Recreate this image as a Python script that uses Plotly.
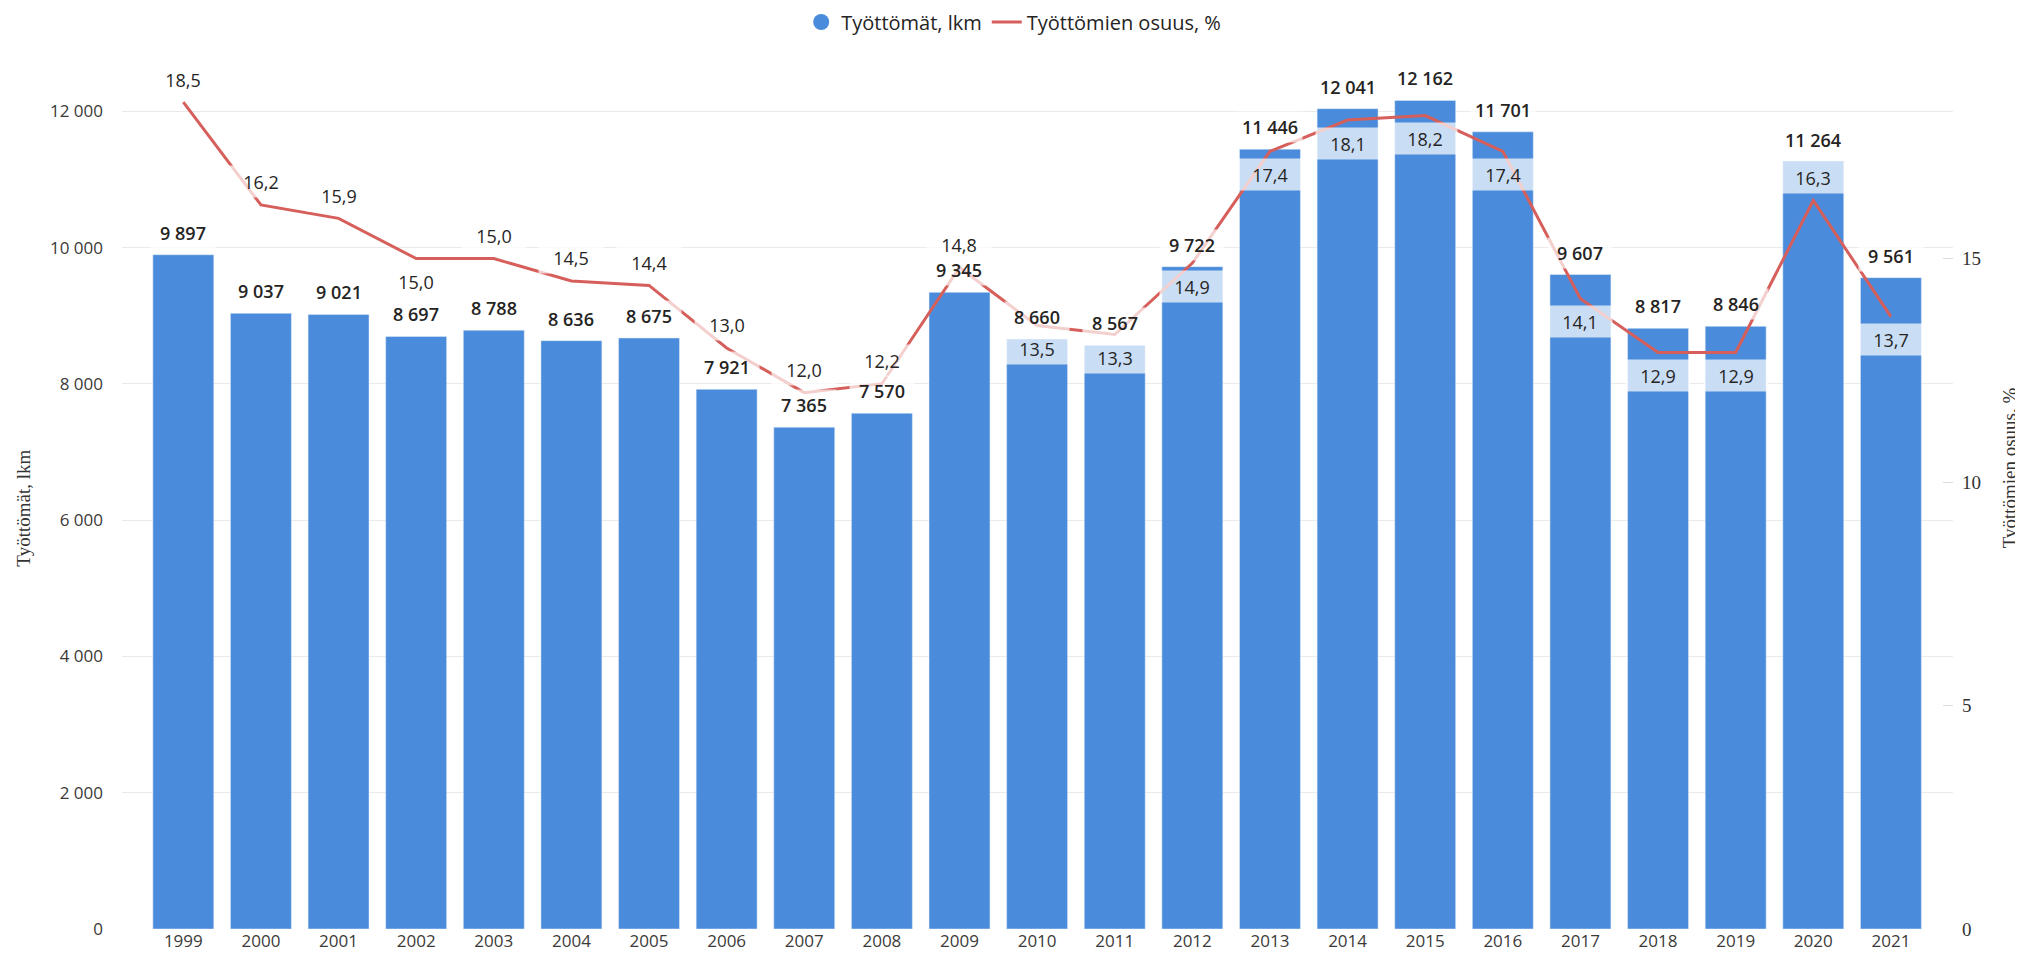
import plotly.graph_objects as go

years = [str(y) for y in range(1999, 2022)]
unemployed = [9897, 9037, 9021, 8697, 8788, 8636, 8675, 7921, 7365, 7570, 9345, 8660,
              8567, 9722, 11446, 12041, 12162, 11701, 9607, 8817, 8846, 11264, 9561]
share = [18.5, 16.2, 15.9, 15.0, 15.0, 14.5, 14.4, 13.0, 12.0, 12.2, 14.8, 13.5,
         13.3, 14.9, 17.4, 18.1, 18.2, 17.4, 14.1, 12.9, 12.9, 16.3, 13.7]
left_ticks = [0, 2000, 4000, 6000, 8000, 10000, 12000]
right_ticks = [0, 5, 10, 15]

# label placement (style): +1 above the line point, -1 below
pct_side = [1, 1, 1, -1, 1, 1, 1, 1, 1, 1, 1, -1, -1, -1, -1, -1, -1, -1, -1, -1, -1, 1, -1]

BAR = "#4A8CDB"
LINE = "#D65F5B"
FONT = "Segoe UI, Open Sans, sans-serif"
SERIF = "Liberation Serif, Times New Roman, serif"
TXT = "#252423"

def fi(v):
    return f"{v:,}".replace(",", " ")

def fpct(v):
    return f"{v:.1f}".replace(".", ",")

fig = go.Figure()
fig.add_trace(go.Bar(x=years, y=unemployed, marker_color=BAR, width=0.785,
                     showlegend=False, name="Työttömät, lkm", yaxis="y"))
fig.add_trace(go.Scatter(x=[None], y=[None], mode="markers", name="Työttömät, lkm",
                         marker=dict(symbol="circle", size=16, color=BAR)))
fig.add_trace(go.Scatter(x=years, y=share, mode="lines", name="Työttömien osuus, %",
                         line=dict(color=LINE, width=3), yaxis="y2"))

ann = []
# category axis: annotation x given as category index
for i, v in enumerate(unemployed):
    ann.append(dict(x=i, y=v, xref="x", yref="y", text=fi(v), showarrow=False,
                    yshift=22, font=dict(family=FONT, size=18, color=TXT, weight=600),
                    bgcolor="rgba(255,255,255,0.7)", width=64, height=30, borderpad=0))
for i, (v, s) in enumerate(zip(share, pct_side)):
    ann.append(dict(x=i, y=v, xref="x", yref="y2", text=fpct(v), showarrow=False,
                    yshift=23 * s, font=dict(family=FONT, size=18, color=TXT),
                    bgcolor="rgba(255,255,255,0.7)", width=64, height=31, borderpad=0))
ann.append(dict(x=-0.054, y=0.473, xref="paper", yref="paper", text="Työttömät, lkm",
                textangle=-90, showarrow=False, xanchor="center", yanchor="middle",
                font=dict(family=SERIF, size=19, color="#333")))
ann.append(dict(x=1.031, y=0.519, xref="paper", yref="paper", text="Työttömien osuus, %",
                textangle=-90, showarrow=False, xanchor="center", yanchor="middle",
                font=dict(family=SERIF, size=19, color="#333")))

# the page body adds an 8px offset; margins compensate so the plot area sits at
# x 122..1953 and y 40..929 in the window
fig.update_layout(
    width=2023, height=959,
    margin=dict(l=114, r=78, t=32, b=38, autoexpand=False),
    paper_bgcolor="white", plot_bgcolor="white",
    font=dict(family=FONT, size=17, color="#3b3a39"),
    legend=dict(orientation="h", x=0.487, xanchor="center", yref="container",
                y=1 - 14 / 959, yanchor="middle",
                font=dict(family=FONT, size=20, color=TXT), itemwidth=30,
                bgcolor="rgba(0,0,0,0)"),
    xaxis=dict(type="category", range=[-0.79, 22.8], showgrid=False, showline=False,
               ticks="", tickfont=dict(size=17, color="#3b3a39")),
    yaxis=dict(range=[0, 13049], tickvals=left_ticks, ticktext=[fi(t) for t in left_ticks],
               showgrid=True, gridcolor="#EAEAEA", gridwidth=1, zeroline=False,
               showline=False, ticks="", ticklabelstandoff=18,
               tickfont=dict(size=17, color="#3b3a39")),
    yaxis2=dict(range=[0, 19.89], overlaying="y", side="right", tickvals=right_ticks,
                showgrid=False, zeroline=False, showline=False, ticks="inside",
                ticklen=10, tickcolor="#DDDDDD", ticklabelstandoff=8,
                tickfont=dict(family=SERIF, size=19, color="#333")),
    annotations=ann,
)

fig.write_html("out.html")
